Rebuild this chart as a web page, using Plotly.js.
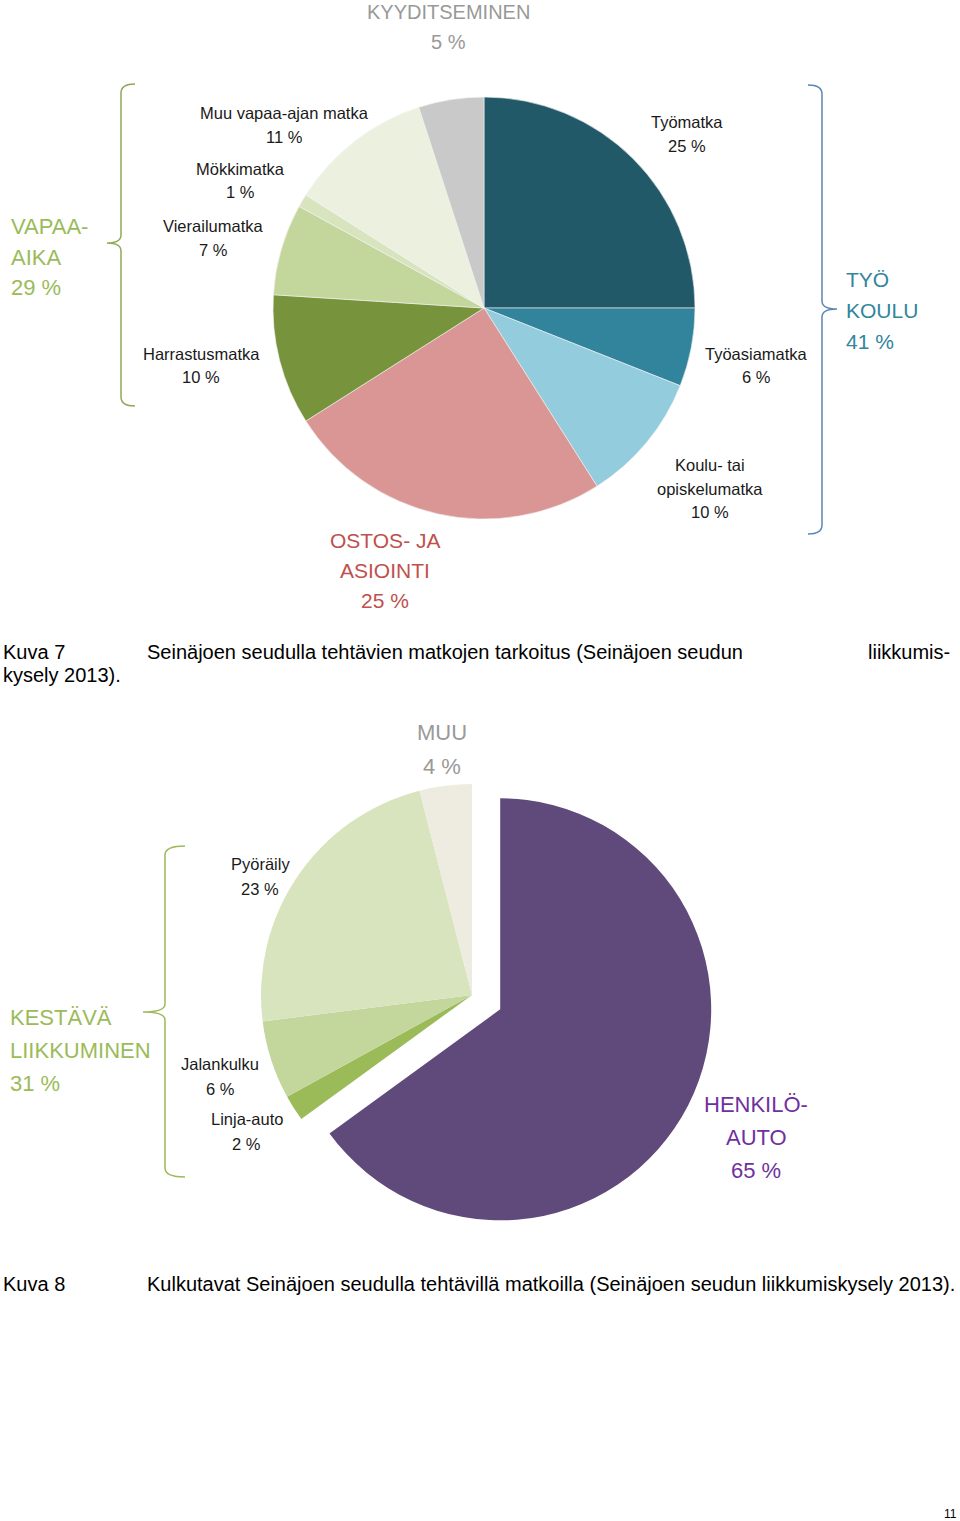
<!DOCTYPE html>
<html><head><meta charset="utf-8">
<script src="https://cdn.plot.ly/plotly-3.0.1.min.js"></script>
<style>html,body{margin:0;padding:0;background:#fff}</style>
</head><body>
<div id="chart" style="width:960px;height:1521px"></div>
<script>
// ---------- DATA ----------
// Figure 7: trip purposes (clockwise from 12 o'clock)
const purposeLabels = ['Työmatka', 'Työasiamatka', 'Koulu- tai opiskelumatka', 'Ostos- ja asiointi',
  'Harrastusmatka', 'Vierailumatka', 'Mökkimatka', 'Muu vapaa-ajan matka', 'Kyyditseminen'];
const purposeShares = [25, 6, 10, 25, 10, 7, 1, 11, 5];
// Purpose groups
const purposeGroupNames = ['VAPAA-AIKA', 'TYÖ KOULU', 'OSTOS- JA ASIOINTI', 'KYYDITSEMINEN'];
const purposeGroupShares = [29, 41, 25, 5];

// Figure 8: travel modes (clockwise from 12 o'clock)
const modeLabels = ['Henkilöauto', 'Linja-auto', 'Jalankulku', 'Pyöräily', 'Muu'];
const modeShares = [65, 2, 6, 23, 4];
const modeGroupNames = ['HENKILÖ-AUTO', 'KESTÄVÄ LIIKKUMINEN', 'MUU'];
const modeGroupShares = [65, 31, 4];

const captionLabels = ['Kuva 7', 'Kuva 8'];
const captionTexts = [
  'Seinäjoen seudulla tehtävien matkojen tarkoitus (Seinäjoen seudun liikkumiskysely 2013).',
  'Kulkutavat Seinäjoen seudulla tehtävillä matkoilla (Seinäjoen seudun liikkumiskysely 2013).'
];
const pageNumber = '11';

// ---------- STYLE ----------
const W = 960, H = 1521;
const FONT = 'Liberation Sans, Arial, sans-serif';
const purposeColors = ['#215968', '#31849B', '#93CDDD', '#D99694', '#77933C', '#C3D69B', '#D7E4BD', '#EBF1DE', '#C9C9C9'];
const modeColors = ['#604A7B', '#9BBB59', '#C3D69B', '#D7E4BD', '#EEECE1'];
const GREEN = '#9BBB59', TEAL = '#31859C', RED = '#C0504D', GRAY = '#999999', PURPLE = '#7030A0';

const px = x => x / W;
const py = y => 1 - y / H;

const annotations = [];
function addText(lines, x, y, opts) {
  const o = Object.assign({size: 16.5, color: '#1a1a1a', anchor: 'center', gap: 24}, opts || {});
  const dx = o.anchor === 'left' ? -2 : (o.anchor === 'right' ? 2 : 0);
  lines.forEach((ln, i) => {
    annotations.push({
      text: ln, xref: 'paper', yref: 'paper', x: px(x + dx), y: py(y + i * o.gap),
      xanchor: o.anchor, yanchor: 'middle', showarrow: false, borderpad: 0,
      font: {family: FONT, size: o.size, color: o.color}
    });
  });
}
const pct = v => v + ' %';

// slice labels, figure 7
const pLines = [
  ['Työmatka'], ['Työasiamatka'], ['Koulu- tai', 'opiskelumatka'], null,
  ['Harrastusmatka'], ['Vierailumatka'], ['Mökkimatka'], ['Muu vapaa-ajan matka'], null
];
const pPos = [[687, 122], [756, 354], [710, 465], null, [201, 354], [213, 226], [240, 169], [284, 113], null];
purposeLabels.forEach((lab, i) => {
  if (!pLines[i]) return;
  addText(pLines[i].concat([pct(purposeShares[i])]), pPos[i][0], pPos[i][1], {gap: 23.5});
});

// group labels, figure 7
addText(['VAPAA-', 'AIKA', pct(purposeGroupShares[0])], 12, 227, {size: 22, color: GREEN, anchor: 'left', gap: 30.5});
addText(['TYÖ', 'KOULU', pct(purposeGroupShares[1])], 847, 280, {size: 21, color: TEAL, anchor: 'left', gap: 30.5});
addText(['OSTOS- JA', 'ASIOINTI', pct(purposeGroupShares[2])], 385, 540, {size: 21, color: RED, gap: 30.5});
addText([purposeGroupNames[3], pct(purposeGroupShares[3])], 448, 12, {size: 20, color: GRAY, gap: 30});

// slice labels, figure 8
const mLines = [null, ['Linja-auto'], ['Jalankulku'], ['Pyöräily'], null];
const mPos = [null, [247, 1119], [220, 1064], [260, 864], null];
modeLabels.forEach((lab, i) => {
  if (!mLines[i]) return;
  addText(mLines[i].concat([pct(modeShares[i])]), mPos[i][0], mPos[i][1], {gap: 25});
});
addText(['HENKILÖ-', 'AUTO', pct(modeGroupShares[0])], 756, 1104, {size: 22, color: PURPLE, gap: 33});
addText(['KESTÄVÄ', 'LIIKKUMINEN', pct(modeGroupShares[1])], 11, 1017, {size: 22, color: GREEN, anchor: 'left', gap: 33});
addText([modeGroupNames[2], pct(modeGroupShares[2])], 442, 732, {size: 22, color: GRAY, gap: 34});

// captions
const cap1Words = captionTexts[0].split(' ');
addText([captionLabels[0]], 4, 652, {size: 20, color: '#000', anchor: 'left'});
addText([cap1Words.slice(0, -2).join(' ')], 148, 652, {size: 20, color: '#000', anchor: 'left'});
addText(['liikkumis-'], 949, 652, {size: 20, color: '#000', anchor: 'right'});
addText(['kysely 2013).'], 4, 675, {size: 20, color: '#000', anchor: 'left'});
addText([captionLabels[1]], 4, 1284, {size: 20, color: '#000', anchor: 'left'});
addText([captionTexts[1]], 148, 1284, {size: 20, color: '#000', anchor: 'left'});
addText([pageNumber], 950, 1514, {size: 12, color: '#000'});

function pathPx(d) {
  // convert "x,y" pixel pairs into paper coords
  return d.replace(/(-?\d+(?:\.\d+)?),(-?\d+(?:\.\d+)?)/g, (m, a, b) => px(+a).toFixed(5) + ',' + py(+b).toFixed(5));
}
const shapes = [
  {type: 'path', xref: 'paper', yref: 'paper', line: {color: '#8FAA5A', width: 1.5},
   path: pathPx('M 135,84 Q 121,84 121,93 L 121,235 Q 121,243 107,243 Q 121,243 121,251 L 121,397 Q 121,406 135,406')},
  {type: 'path', xref: 'paper', yref: 'paper', line: {color: '#5B87B5', width: 1.5},
   path: pathPx('M 808,85 Q 822,85 822,94 L 822,301 Q 822,309 837,309 Q 822,309 822,317 L 822,525 Q 822,534 808,534')},
  {type: 'path', xref: 'paper', yref: 'paper', line: {color: '#9BBB59', width: 1.5},
   path: pathPx('M 185,846 Q 165,846 165,855 L 165,1004 Q 165,1012 143,1012 Q 165,1012 165,1020 L 165,1168 Q 165,1177 185,1177')}
];

// ---------- TRACES ----------
const pie1 = {
  type: 'pie', labels: purposeLabels, values: purposeShares, sort: false, direction: 'clockwise',
  rotation: 0, textinfo: 'none', hoverinfo: 'label+value',
  marker: {colors: purposeColors, line: {color: '#f4f4f4', width: 0.6}},
  domain: {x: [px(273), px(695)], y: [py(519), py(97)]}
};
const pull2 = 0.15;
const c2 = [472, 995], r2 = 211, half2 = r2 * (1 + pull2);
const pie2 = {
  type: 'pie', labels: modeLabels, values: modeShares, sort: false, direction: 'clockwise',
  rotation: 0, textinfo: 'none', hoverinfo: 'label+value',
  pull: modeLabels.map((l, i) => i === 0 ? pull2 : 0),
  marker: {colors: modeColors, line: {width: 0}},
  domain: {x: [px(c2[0] - half2), px(c2[0] + half2)], y: [py(c2[1] + half2), py(c2[1] - half2)]}
};

Plotly.newPlot('chart', [pie1, pie2], {
  width: W, height: H, margin: {l: 0, r: 0, t: 0, b: 0},
  paper_bgcolor: '#ffffff', showlegend: false,
  font: {family: FONT}, annotations: annotations, shapes: shapes
}, {staticPlot: true});
</script>
</body></html>
